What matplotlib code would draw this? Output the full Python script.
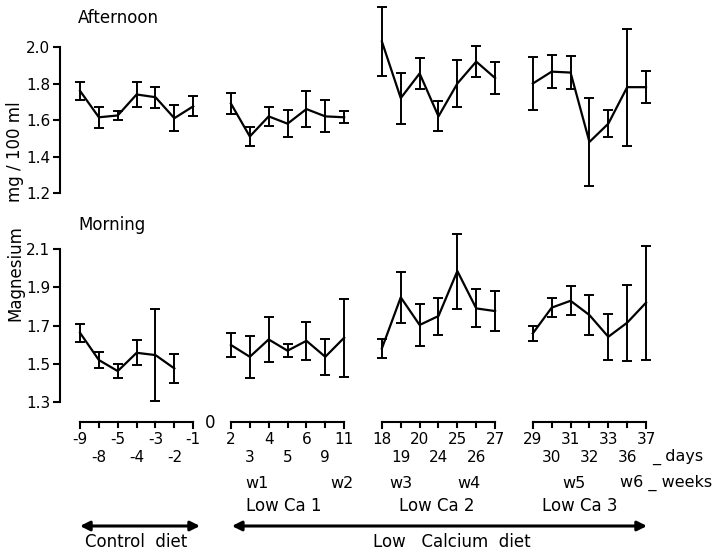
import matplotlib
matplotlib.use('Agg')
import matplotlib.pyplot as plt

# days sampled in each diet period (4 groups of 7)
days = [
    ['-9', '-8', '-5', '-4', '-3', '-2', '-1'],
    ['2', '3', '4', '5', '6', '9', '11'],
    ['18', '19', '20', '24', '25', '26', '27'],
    ['29', '30', '31', '32', '33', '36', '37'],
]

# afternoon serum magnesium, mg/100 ml (mean and error bar)
aft_mean = [
    [1.76, 1.615, 1.625, 1.74, 1.725, 1.61, 1.675],
    [1.69, 1.51, 1.62, 1.58, 1.66, 1.62, 1.615],
    [2.03, 1.72, 1.855, 1.62, 1.80, 1.92, 1.83],
    [1.80, 1.865, 1.86, 1.48, 1.58, 1.78, 1.78],
]
aft_err = [
    [0.05, 0.057, 0.025, 0.07, 0.057, 0.07, 0.055],
    [0.056, 0.053, 0.054, 0.075, 0.10, 0.088, 0.032],
    [0.19, 0.14, 0.083, 0.082, 0.13, 0.085, 0.087],
    [0.146, 0.09, 0.09, 0.24, 0.074, 0.32, 0.087],
]

# morning serum magnesium (control period has no day -1)
morn_mean = [
    [1.662, 1.519, 1.461, 1.557, 1.545, 1.475],
    [1.598, 1.536, 1.627, 1.568, 1.62, 1.536, 1.636],
    [1.58, 1.848, 1.703, 1.75, 1.986, 1.79, 1.776],
    [1.659, 1.794, 1.83, 1.755, 1.641, 1.715, 1.82],
]
morn_err = [
    [0.047, 0.04, 0.037, 0.065, 0.24, 0.077],
    [0.063, 0.11, 0.12, 0.035, 0.10, 0.094, 0.205],
    [0.048, 0.135, 0.11, 0.097, 0.197, 0.10, 0.103],
    [0.04, 0.048, 0.075, 0.105, 0.12, 0.20, 0.30],
]

weeks = ['w1', 'w2', 'w3', 'w4', 'w5']
week_pos = [9.4, 13.9, 17.0, 20.6, 26.2]
periods = ['Low Ca 1', 'Low Ca 2', 'Low Ca 3']
period_pos = [10.8, 18.9, 26.5]

gap = 8  # slot offset between groups
W, H = 714, 552
plt.rcParams['font.family'] = 'DejaVu Sans'

fig = plt.figure(figsize=(W / 100, H / 100), dpi=100)
xlim = (-1.06, 32.86)


def px_axes(top, bottom):
    return fig.add_axes([60 / W, 1 - bottom / H, 640 / W, (bottom - top) / H])


def panel(ax, means, errs, ticks, ylim):
    for g in range(4):
        xs = [i + gap * g for i in range(len(means[g]))]
        ax.errorbar(xs, means[g], yerr=errs[g], color='black', lw=1.6,
                    elinewidth=1.4, capsize=3.5, capthick=1.4)
    ax.set_xlim(*xlim)
    ax.set_ylim(*ylim)
    for s in ['top', 'right', 'bottom']:
        ax.spines[s].set_visible(False)
    ax.spines['left'].set_linewidth(1.5)
    ax.spines['left'].set_bounds(ticks[0], ticks[-1])
    ax.set_xticks([])
    ax.set_yticks(ticks)
    ax.set_yticklabels(['%.1f' % t for t in ticks], fontsize=11)
    ax.tick_params(axis='y', direction='out', length=5, width=1.5, pad=2)
    ax.patch.set_alpha(0)


ax1 = px_axes(5, 200)
panel(ax1, aft_mean, aft_err, [1.2, 1.4, 1.6, 1.8, 2.0], (1.162, 2.230))
ax2 = px_axes(232, 405)
panel(ax2, morn_mean, morn_err, [1.3, 1.5, 1.7, 1.9, 2.1], (1.283, 2.191))

fig.text(78 / W, 1 - 18 / H, 'Afternoon', fontsize=12, va='center')
fig.text(78 / W, 1 - 225 / H, 'Morning', fontsize=12, va='center')
fig.text(15 / W, 1 - 152 / H, 'mg / 100 ml', fontsize=12, rotation=90,
         ha='center', va='center')
fig.text(15 / W, 1 - 273 / H, 'Magnesium', fontsize=12, rotation=90,
         ha='center', va='center')

# lower scale: y in pixels from top
ax3 = px_axes(405, 552)
ax3.set_xlim(*xlim)
ax3.set_ylim(552, 405)
ax3.axis('off')

for g in range(4):
    xs = [i + gap * g for i in range(len(days[g]))]
    ax3.plot([xs[0], xs[-1]], [422, 422], color='black', lw=1.5)
    for k, x in enumerate(xs):
        end = 428 if k in (0, len(xs) - 1) else 426.5
        ax3.plot([x, x], [422, end], color='black', lw=1.5)
        y = 439 if k % 2 == 0 else 457
        ax3.text(x, y, days[g][k], fontsize=11, ha='center', va='center')

ax3.text(6.9, 423, '0', fontsize=12, ha='center', va='center')
ax3.text(30.3, 457, '_ days', fontsize=11.5, ha='left', va='center')

for w, p in zip(weeks, week_pos):
    ax3.text(p, 483, w, fontsize=11.5, ha='center', va='center')
ax3.text(28.6, 483, 'w6 _ weeks', fontsize=11.5, ha='left', va='center')

for lab, p in zip(periods, period_pos):
    ax3.text(p, 506, lab, fontsize=12, ha='center', va='center')

arrow = dict(arrowstyle='<|-|>', color='black', lw=2.2, mutation_scale=14,
             shrinkA=0, shrinkB=0)
ax3.annotate('', xy=(6.36, 526), xytext=(0.0, 526), arrowprops=arrow)
ax3.annotate('', xy=(30.05, 526), xytext=(8.05, 526), arrowprops=arrow)
ax3.text(3.0, 542, 'Control  diet', fontsize=12, ha='center', va='center')
ax3.text(19.7, 542, 'Low   Calcium  diet', fontsize=12, ha='center', va='center')

plt.savefig('out.png', dpi=100, facecolor='white')
